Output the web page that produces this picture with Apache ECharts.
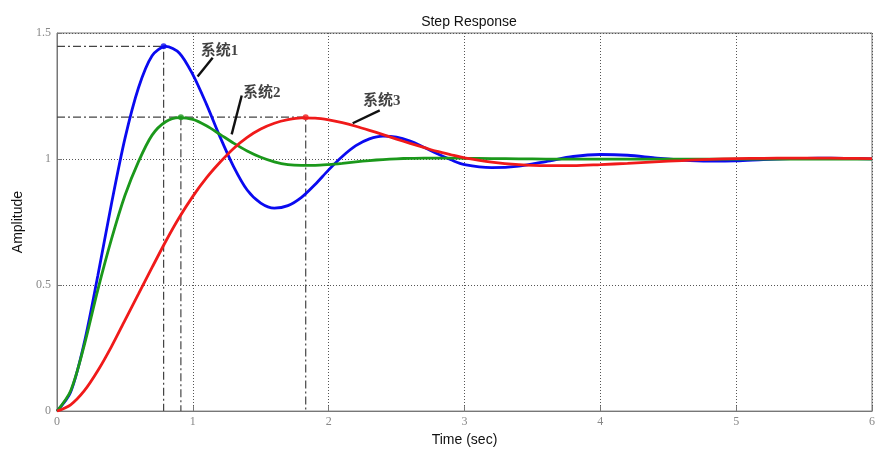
<!DOCTYPE html>
<html>
<head>
<meta charset="utf-8">
<script src="https://cdn.jsdelivr.net/npm/echarts@6/dist/echarts.min.js"></script>
<style>
html,body{margin:0;padding:0;background:#fff;}
#chart{width:890px;height:452px;}
</style>
</head>
<body>
<div id="chart"></div>
<script>
// ---- data ----
var times = [0,0.1,0.2,0.3,0.4,0.5,0.6,0.7,0.8,0.9,1.0,1.1,1.2,1.3,1.4,1.5,1.6,1.7,1.8,1.9,2.0,
             2.1,2.2,2.3,2.4,2.5,2.6,2.7,2.8,2.9,3.0,
             3.2,3.4,3.6,3.8,4.0,4.2,4.4,4.6,4.8,5.0,5.2,5.4,5.6,5.8,6.0];
var sys1 = [0,0.075,0.270,0.536,0.820,1.081,1.283,1.410,1.447,1.421,1.335,1.218,1.088,0.970,0.877,0.825,0.805,0.815,0.848,0.899,0.957,
            1.010,1.053,1.080,1.091,1.087,1.071,1.047,1.021,0.997,0.978,
            0.966,0.972,0.990,1.010,1.018,1.015,1.005,0.996,0.992,0.993,0.998,1.002,1.004,1.003,1.001];
var sys2 = [0,0.080,0.260,0.480,0.680,0.855,0.990,1.095,1.148,1.164,1.157,1.132,1.098,1.063,1.032,1.007,0.989,0.978,0.975,0.975,0.978,
            0.983,0.989,0.994,0.998,1.001,1.003,1.004,1.004,1.004,1.003,
            1.002,1.001,1.000,1.000,1.000,1.000,1.000,1.000,1.000,1.000,1.000,1.000,1.000,1.000,1.000];
var sys3 = [0,0.025,0.080,0.160,0.255,0.360,0.465,0.570,0.673,0.768,0.852,0.925,0.987,1.042,1.086,1.119,1.142,1.156,1.163,1.162,1.155,
            1.144,1.130,1.114,1.097,1.079,1.062,1.046,1.030,1.017,1.005,
            0.988,0.978,0.974,0.974,0.978,0.983,0.989,0.994,0.999,1.002,1.003,1.004,1.004,1.003,1.002];
var seriesNames = ['系统1','系统2','系统3'];
var peakT = [0.785, 0.912, 1.831];
var peakV = [1.447, 1.166, 1.166];
var labelT = [1.197, 1.507, 2.391];
var labelV = [1.430, 1.260, 1.229];
var leaderFromT = [1.146, 1.360, 2.376];
var leaderFromV = [1.402, 1.252, 1.193];
var leaderToT = [1.035, 1.286, 2.177];
var leaderToV = [1.327, 1.098, 1.142];
var xTicks = [0,1,2,3,4,5,6];
var yTicks = [0,0.5,1,1.5];

var colors = ['#0a0af0','#1b981b','#f01a1a'];

function pairs(ys){ return times.map(function(t,i){ return [t, ys[i]]; }); }

var guideStyle = {color:'#444', width:1.2, type:[8,3,2,3]};
var series = [];
// dash-dot guide lines
series.push({type:'line', silent:true, symbol:'none', lineStyle:guideStyle, z:2,
  data:[[0,peakV[0]],[peakT[0],peakV[0]],[peakT[0],0]]});
series.push({type:'line', silent:true, symbol:'none', lineStyle:guideStyle, z:2,
  data:[[0,peakV[2]],[peakT[2],peakV[2]],[peakT[2],0]]});
series.push({type:'line', silent:true, symbol:'none', lineStyle:guideStyle, z:2,
  data:[[peakT[1],peakV[1]],[peakT[1],0]]});
// curves
[sys1,sys2,sys3].forEach(function(ys,i){
  series.push({type:'line', name:seriesNames[i], data:pairs(ys), smooth:0.3, symbol:'none',
    lineStyle:{color:colors[i], width:2.8}, z:3+i});
});
// peak dots
series.push({type:'scatter', silent:true, symbolSize:6, z:8,
  data:peakT.map(function(t,i){ return {value:[t,peakV[i]], itemStyle:{color:colors[i]}}; })});
// leader lines
for (var k=0;k<3;k++){
  series.push({type:'line', silent:true, symbol:'none', z:9,
    lineStyle:{color:'#111', width:2.4},
    data:[[leaderFromT[k],leaderFromV[k]],[leaderToT[k],leaderToV[k]]]});
}
// text labels
series.push({type:'scatter', silent:true, symbolSize:0, z:10,
  data:labelT.map(function(t,i){ return {value:[t,labelV[i]], name:seriesNames[i]}; }),
  label:{show:true, position:'inside', formatter:'{b}', color:'#111', fontSize:15, fontWeight:'bold',
    fontFamily:'"Liberation Serif","Noto Sans CJK SC",serif'}});

var chart = echarts.init(document.getElementById('chart'), null, {renderer:'canvas'});
chart.setOption({
  animation:false,
  backgroundColor:'#fff',
  title:{text:'Step Response', left:464, textAlign:'center', top:10,
    textStyle:{fontSize:14, fontWeight:'normal', color:'#111', fontFamily:'"Liberation Sans",Arial,sans-serif'}},
  grid:{left:57, right:18, top:33, bottom:38, show:true, borderColor:'#777', borderWidth:1},
  xAxis:{type:'value', min:xTicks[0], max:xTicks[xTicks.length-1], interval:1,
    name:'Time (sec)', nameLocation:'middle', nameGap:17,
    nameTextStyle:{fontSize:14, color:'#111', fontFamily:'"Liberation Sans",Arial,sans-serif'},
    axisLine:{lineStyle:{color:'#777'}},
    axisTick:{inside:true, length:5, lineStyle:{color:'#777'}},
    axisLabel:{color:'#888', fontSize:12, margin:5, fontFamily:'"Liberation Serif",serif'},
    splitLine:{show:true, lineStyle:{color:'#555', type:[1,2], width:1}}},
  yAxis:{type:'value', min:yTicks[0], max:yTicks[yTicks.length-1], interval:0.5,
    name:'Amplitude', nameLocation:'middle', nameGap:23, nameRotate:90,
    nameTextStyle:{fontSize:14, color:'#111', fontFamily:'"Liberation Sans",Arial,sans-serif'},
    axisLine:{show:true, lineStyle:{color:'#777'}},
    axisTick:{show:true, inside:true, length:5, lineStyle:{color:'#777'}},
    axisLabel:{color:'#888', fontSize:12, margin:6, fontFamily:'"Liberation Serif",serif'},
    splitLine:{show:true, lineStyle:{color:'#555', type:[1,2], width:1}}},
  series:series
});
</script>
</body>
</html>
